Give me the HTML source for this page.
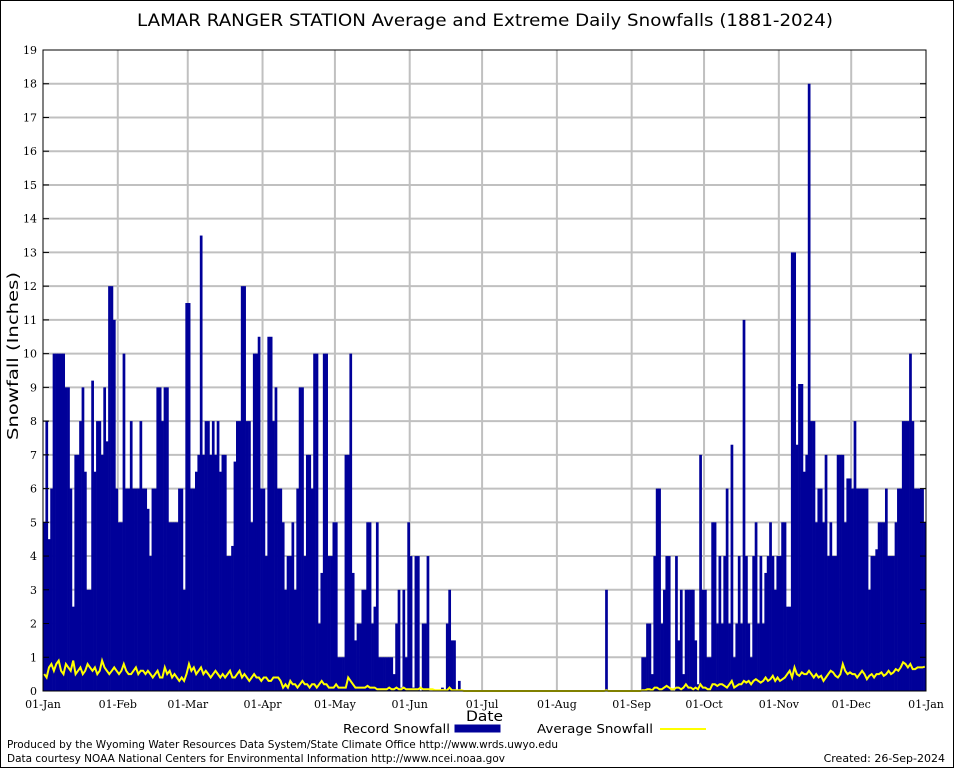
<!DOCTYPE html>
<html><head><meta charset="utf-8">
<style>
html,body{margin:0;padding:0;background:#fff;}
svg{display:block;font-family:"DejaVu Sans","Liberation Sans",sans-serif;}
.serif{font-family:"DejaVu Serif","Liberation Serif",serif;}
</style></head>
<body>
<svg id="chart" width="954" height="768" viewBox="0 0 954 768" xmlns="http://www.w3.org/2000/svg">
<rect x="0.5" y="0.5" width="953" height="767" fill="#fff" stroke="#000"/>
<text x="137" y="26" font-size="17" textLength="696" lengthAdjust="spacingAndGlyphs" fill="#000">LAMAR RANGER STATION Average and Extreme Daily Snowfalls (1881-2024)</text>
<text transform="translate(18,440) rotate(-90)" font-size="15" textLength="168" lengthAdjust="spacingAndGlyphs">Snowfall (Inches)</text>
<text x="466" y="721" font-size="14" textLength="37" lengthAdjust="spacingAndGlyphs">Date</text>
<g id="grid"></g>
<g id="bars"></g>
<g id="avg"></g>
<g id="axes"></g>
<g>
<text x="343" y="733" font-size="12" textLength="107" lengthAdjust="spacingAndGlyphs">Record Snowfall</text>
<rect x="455" y="725" width="45" height="7" fill="#000099" stroke="#000099"/>
<text x="537" y="733" font-size="12" textLength="116" lengthAdjust="spacingAndGlyphs">Average Snowfall</text>
<line x1="660" y1="729" x2="706" y2="729" stroke="#ffff00" stroke-width="2"/>
</g>
<text x="7" y="748" font-size="11" textLength="551" lengthAdjust="spacingAndGlyphs">Produced by the Wyoming Water Resources Data System/State Climate Office http://www.wrds.uwyo.edu</text>
<text x="7" y="762" font-size="11" textLength="498" lengthAdjust="spacingAndGlyphs">Data courtesy NOAA National Centers for Environmental Information http://www.ncei.noaa.gov</text>
<text x="945" y="762" font-size="11" text-anchor="end">Created:  26-Sep-2024</text>
</svg>
<script>
const monthLabels=["01-Jan","01-Feb","01-Mar","01-Apr","01-May","01-Jun","01-Jul","01-Aug","01-Sep","01-Oct","01-Nov","01-Dec","01-Jan"];
const monthStartDays=[0,31,60,91,121,152,182,213,244,274,305,335,366];
const yTicks=[0,1,2,3,4,5,6,7,8,9,10,11,12,13,14,15,16,17,18,19];
const recordSnow=[5,8,4.5,6,10,10,10,10,10,9,9,6,2.5,7,7,8,9,6.5,3,3,9.2,6.5,8,8,7,9,7.4,12,12,11,6,
5,5,10,6,6,8,6,6,6,8,6,6,5.4,4,6,6,9,9,8,9,9,5,5,5,5,6,6,3,11.5,
11.5,6,6,6.5,7,13.5,7,8,8,7,8,7,8,6.5,7,7,4,4,4.3,6.8,8,8,12,12,8,8,5,10,10,10.5,
6,6,4,10.5,10.5,8,9,6,6,5,3,4,4,5,3,6,9,9,4,7,7,6,10,10,2,3.5,10,10,4,4,
5,5,1,1,1,7,7,10,3.5,1.5,2,2,3,3,5,5,2,2.5,5,1,1,1,1,1,1,0.5,2,3,0.1,3,1,
5,4,0.1,4,4,0,2,2,4,0,0,0,0,0,0.1,0,2,3,1.5,1.5,0,0.3,0,0,0,0,0,0,0,0,0,
0,0,0,0,0,0,0,0,0,0,0,0,0,0,0,0,0,0,0,0,0,0,0,0,0,0,0,0,0,0,0,
0,0,0,0,0,0,0,0,0,0,0,0,0,0,0,0,0,0,0,0,3,0,0,0,0,0,0,0,0,0,0,
0,0,0,0,1,1,2,2,0.5,4,6,6,2,3,4,4,0,0,4,1.5,3,0.5,3,3,3,3,1.5,0.2,7,3,
3,1,1,5,5,2,4,2,4,6,2,7.3,1,2,4,2,11,4,2,1,4,5,2,4,2,3.5,4,5,4,3,4,
4,5,5,2.5,2.5,13,13,7.3,9.1,9.1,6.5,7,18,8,8,5,6,6,5,7,4,5,4,4,7,7,7,5,6.3,6.3,
6,8,6,6,6,6,6,3,4,4,4.2,5,5,5,6,4,4,4,5,6,6,8,8,8,10,8,6,6,6,6,5];
const avgSnow=[0.5,0.4,0.7,0.8,0.6,0.8,0.9,0.6,0.5,0.8,0.7,0.6,0.9,0.5,0.6,0.7,0.5,0.6,0.8,0.7,0.6,0.7,0.5,0.6,0.9,0.7,0.6,0.5,0.6,0.7,0.6,
0.5,0.6,0.8,0.6,0.5,0.5,0.6,0.7,0.5,0.6,0.6,0.5,0.6,0.5,0.4,0.5,0.6,0.4,0.4,0.7,0.5,0.6,0.4,0.5,0.4,0.3,0.4,0.3,0.5,
0.8,0.6,0.7,0.5,0.6,0.7,0.5,0.6,0.5,0.4,0.5,0.6,0.5,0.4,0.5,0.4,0.5,0.6,0.4,0.4,0.5,0.6,0.4,0.5,0.4,0.3,0.4,0.5,0.4,0.4,0.3,
0.4,0.4,0.3,0.3,0.4,0.4,0.4,0.3,0.1,0.2,0.1,0.3,0.2,0.2,0.1,0.2,0.3,0.2,0.2,0.1,0.2,0.2,0.1,0.2,0.3,0.2,0.2,0.1,0.1,0.1,
0.2,0.1,0.1,0.1,0.1,0.4,0.3,0.2,0.1,0.1,0.1,0.1,0.1,0.15,0.1,0.1,0.1,0.05,0.05,0.05,0.05,0.05,0.1,0.05,0.05,0.1,0.05,0.05,0.1,0.05,0.05,
0.05,0.05,0.05,0.05,0.1,0.05,0.05,0.05,0.05,0.05,0.02,0.02,0.02,0.03,0.02,0.02,0.1,0.02,0.02,0.02,0.02,0.02,0,0,0,0,0,0,0,0,
0,0,0,0,0,0,0,0,0,0,0,0,0,0,0,0,0,0,0,0,0,0,0,0,0,0,0,0,0,0,0,
0,0,0,0,0,0,0,0,0,0,0,0,0,0,0,0,0,0,0,0,0.02,0,0,0,0,0,0,0,0,0,0,
0,0,0,0,0.02,0.02,0.05,0.05,0.02,0.1,0.1,0.05,0.05,0.1,0.15,0.1,0.05,0.05,0.1,0.1,0.05,0.1,0.2,0.1,0.1,0.05,0.1,0.05,0.2,0.1,
0.1,0.05,0.05,0.2,0.2,0.15,0.2,0.2,0.15,0.1,0.2,0.3,0.1,0.15,0.2,0.2,0.3,0.25,0.3,0.2,0.3,0.35,0.3,0.25,0.3,0.4,0.3,0.35,0.45,0.3,0.4,
0.3,0.35,0.4,0.5,0.6,0.4,0.7,0.5,0.45,0.55,0.5,0.5,0.6,0.5,0.4,0.5,0.4,0.45,0.3,0.4,0.5,0.6,0.55,0.45,0.4,0.5,0.8,0.6,0.5,0.55,
0.5,0.5,0.4,0.5,0.6,0.5,0.35,0.45,0.5,0.4,0.5,0.5,0.55,0.45,0.5,0.6,0.5,0.55,0.65,0.6,0.7,0.85,0.8,0.7,0.8,0.65,0.65,0.7,0.7,0.7,0.72];

const NS="http://www.w3.org/2000/svg";
const X0=43,X1=926,Y0=691,Y1=50,YMAX=19,NDAYS=366;
function xScale(d){return X0+(X1-X0)*d/NDAYS;}
function yScale(v){return Y0-(Y0-Y1)*v/YMAX;}
function mk(tag,attrs,parent){const e=document.createElementNS(NS,tag);for(const k in attrs)e.setAttribute(k,attrs[k]);parent.appendChild(e);return e;}
const grid=document.getElementById('grid'),bars=document.getElementById('bars'),avgG=document.getElementById('avg'),axes=document.getElementById('axes');

yTicks.forEach(function(t){
  const y=yScale(t);
  if(t>0&&t<YMAX){
    const gl=mk('line',{x1:X0,x2:X1,y1:y,y2:y,stroke:'#c0c0c0','stroke-width':2},grid);
    
    
  }
  const tk=mk('line',{x1:X0,x2:X0+6,y1:y,y2:y,stroke:'#000'},axes);
  
  
  const tk2=mk('line',{x1:X1-6,x2:X1,y1:y,y2:y,stroke:'#000'},axes);
  
  
  const lb=mk('text',{x:X0-6,y:y+4,'font-size':11,'text-anchor':'end','class':'serif'},axes);
  lb.textContent=t;
  
  
});
monthStartDays.forEach(function(d,i){
  const x=xScale(d);
  if(i>0&&i<monthStartDays.length-1){
    const gl=mk('line',{x1:x,x2:x,y1:Y1,y2:Y0,stroke:'#c0c0c0','stroke-width':2},grid);
    
    
  }
  const lb=mk('text',{x:x,y:708,'font-size':11,'text-anchor':'middle','class':'serif'},axes);
  lb.textContent=monthLabels[i];
  
  
});
recordSnow.forEach(function(v,d){
  if(v<=0)return;
  const x=xScale(d),w=xScale(d+1)-x;
  const r=mk('rect',{x:x,y:yScale(v),width:w+0.3,height:Y0-yScale(v),fill:'#000099'},bars);
  
  
});
let pts=avgSnow.map(function(v,d){return xScale(d+0.5).toFixed(1)+','+yScale(v).toFixed(1);}).join(' ');
const pl=mk('polyline',{points:pts,fill:'none',stroke:'#ffff00','stroke-width':2},avgG);


const fr=mk('rect',{x:X0,y:Y1,width:X1-X0,height:Y0-Y1,fill:'none',stroke:'#000','stroke-width':1},axes);


</script>
</body></html>
